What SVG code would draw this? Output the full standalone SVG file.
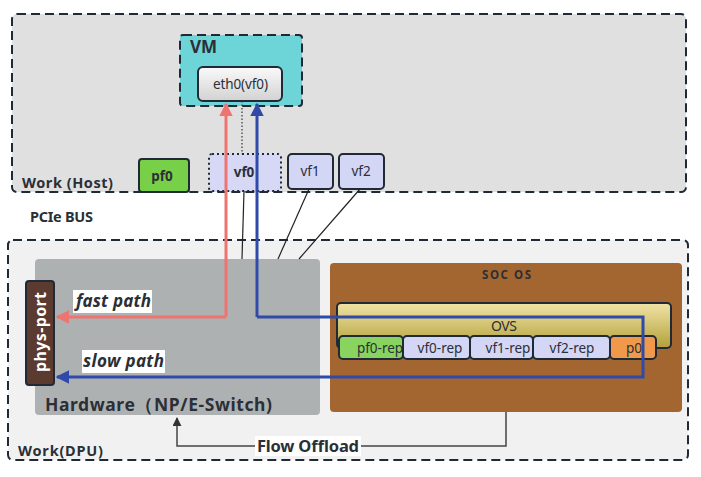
<svg xmlns="http://www.w3.org/2000/svg" width="701" height="477" viewBox="0 0 701 477">
<defs>
<linearGradient id="gEth" x1="0" y1="0" x2="0" y2="1"><stop offset="0" stop-color="#fafafa"/><stop offset="1" stop-color="#d2d2d2"/></linearGradient>
<linearGradient id="gOvs" x1="0" y1="0" x2="0" y2="1"><stop offset="0" stop-color="#f0e4a6"/><stop offset="1" stop-color="#b3a03a"/></linearGradient>
<marker id="aRed" viewBox="0 0 10 10" refX="9" refY="5" markerWidth="4.5" markerHeight="4.5" orient="auto" markerUnits="strokeWidth"><path d="M0,0 L10,5 L0,10 z" fill="#ee7470"/></marker>
<marker id="aBlue" viewBox="0 0 10 10" refX="9" refY="5" markerWidth="4.5" markerHeight="4.5" orient="auto" markerUnits="strokeWidth"><path d="M0,0 L10,5 L0,10 z" fill="#2f4aa8"/></marker>
<marker id="aGray" viewBox="0 0 10 10" refX="9" refY="5" markerWidth="6" markerHeight="6" orient="auto" markerUnits="strokeWidth"><path d="M0,0 L10,5 L0,10 z" fill="#333"/></marker>
</defs>
<style>
text{font-family:"Noto Sans","Open Sans","DejaVu Sans",sans-serif;fill:#2b2f36}
.b{font-weight:bold}
.box{stroke:#1f2a36;stroke-width:2}
.dash{stroke:#1f2a36;stroke-width:2;stroke-dasharray:9 5}
.n{font-size:13.5px;text-anchor:middle}
.lbl{font-size:17px;font-weight:bold;font-style:italic}
.thin{stroke:#222;stroke-width:1.2;fill:none}
</style>
<g id="host">
<rect x="12" y="14" width="674" height="178" rx="5" fill="#e0e0e0" class="dash"/>
<text x="22" y="188" class="b" font-size="14.5" textLength="91">Work (Host)</text>
</g>
<text x="30" y="222" class="b" font-size="14.5" textLength="63">PCIe BUS</text>
<g id="dpu">
<rect x="8" y="240" width="680" height="220" rx="5" fill="#f1f1f1" class="dash"/>
<text x="18" y="456" class="b" font-size="14.5" textLength="85">Work(DPU)</text>
</g>
<g id="hardware">
<rect x="35" y="259" width="285" height="156" rx="4" fill="#aeb1b2"/>
<text x="45" y="411" class="b" font-size="17.5" fill="#2d2d2d" textLength="227">Hardware（NP/E-Switch)</text>
</g>
<g id="socos">
<rect x="330" y="263" width="352" height="149" rx="4" fill="#a36630"/>
<text x="482" y="279" class="b" font-size="11.5" textLength="49">SOC OS</text>
</g>
<g id="ovs">
<rect x="337" y="303" width="334" height="45" rx="4" fill="url(#gOvs)" class="box"/>
<text x="491" y="331" font-size="14" textLength="26">OVS</text>
</g>
<g id="pf0-rep"><rect x="339" y="336" width="64" height="23" rx="4" fill="#88d45e" class="box"/><text x="380" y="353" class="n">pf0-rep</text></g>
<g id="vf0-rep"><rect x="403" y="336" width="67" height="23" rx="4" fill="#d4d6f6" class="box"/><text x="440" y="353" class="n">vf0-rep</text></g>
<g id="vf1-rep"><rect x="470" y="336" width="63" height="23" rx="4" fill="#d4d6f6" class="box"/><text x="508" y="353" class="n">vf1-rep</text></g>
<g id="vf2-rep"><rect x="533" y="336" width="77" height="23" rx="4" fill="#d4d6f6" class="box"/><text x="572" y="353" class="n">vf2-rep</text></g>
<g id="p0"><rect x="610" y="336" width="46" height="23" rx="4" fill="#f0994a" class="box"/><text x="634" y="353" class="n">p0</text></g>
<g id="vm">
<rect x="180" y="35" width="122" height="71" rx="3" fill="#6dd5d7" class="dash"/>
<text x="190" y="53" class="b" font-size="17">VM</text>
</g>
<g id="eth0">
<rect x="198" y="67" width="84" height="34" rx="5" fill="url(#gEth)" class="box"/>
<text x="213" y="89" font-size="13.5" fill="#333" textLength="55">eth0(vf0)</text>
</g>
<g id="pf0"><rect x="139" y="159" width="50" height="33" rx="3" fill="#78d048" class="box"/><text x="162" y="181" class="n b">pf0</text></g>
<g id="vf0"><rect x="209" y="154" width="72" height="37" rx="3" fill="#d6d8f6" stroke="#1f2a36" stroke-width="2" stroke-dasharray="2 3"/><text x="244" y="177" class="n b">vf0</text></g>
<g id="vf1"><rect x="288" y="154" width="45" height="35" rx="4" fill="#d4d6f6" class="box"/><text x="310" y="176" class="n">vf1</text></g>
<g id="vf2"><rect x="339" y="154" width="45" height="35" rx="4" fill="#d4d6f6" class="box"/><text x="361" y="176" class="n">vf2</text></g>
<g id="physport">
<rect x="26" y="281" width="28" height="104" rx="3" fill="#5b3a2f" class="box"/>
<text transform="translate(46 372) rotate(-90)" class="b" font-size="16" fill="#ffffff" style="fill:#fff" textLength="80">phys-port</text>
</g>
<g id="connectors">
<path d="M242 101 V154" stroke="#333" stroke-width="1.2" stroke-dasharray="1.5 2" fill="none"/>
<path d="M244 191 L242 259" class="thin"/>
<path d="M309 189 L278 259" class="thin"/>
<path d="M360 189 L299 259" class="thin"/>
<path d="M226 317 V104" stroke="#ee7470" stroke-width="3" fill="none" marker-end="url(#aRed)"/>
<path d="M226 317 H57" stroke="#ee7470" stroke-width="3" fill="none" marker-end="url(#aRed)"/>
<path d="M257 317 V104" stroke="#2f4aa8" stroke-width="3" fill="none" marker-end="url(#aBlue)"/>
<path d="M257 317 H643 V377 H57" stroke="#2f4aa8" stroke-width="3" fill="none" stroke-linejoin="miter" marker-end="url(#aBlue)"/>
<path d="M506 412 V446 H177 V418" stroke="#444" stroke-width="1.5" fill="none" marker-end="url(#aGray)"/>
<rect x="73" y="290" width="79" height="23" fill="#fff"/>
<text x="76" y="307" class="lbl" textLength="75">fast path</text>
<rect x="82" y="350" width="83" height="23" fill="#fff"/>
<text x="83" y="367" class="lbl" textLength="81">slow path</text>
<rect x="255" y="436" width="106" height="20" fill="#fff"/>
<text x="257" y="452" class="b" font-size="16.5" textLength="102">Flow Offload</text>
</g>
</svg>
